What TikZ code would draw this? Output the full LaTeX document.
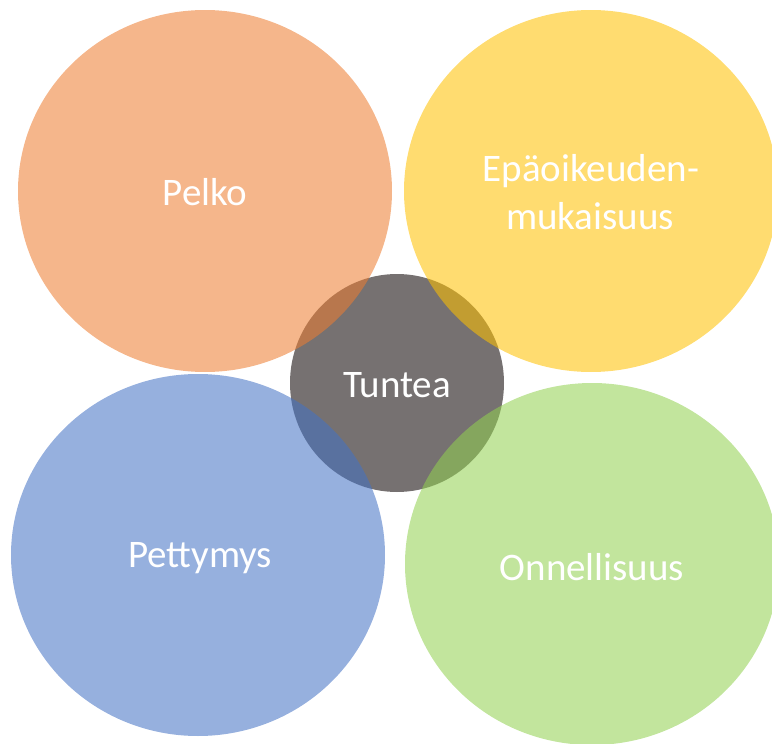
\documentclass[tikz,border=0pt]{standalone}
\usepackage{fontspec}
\setmainfont{Carlito}
\usetikzlibrary{shapes.geometric}
\definecolor{corange}{HTML}{ED7D31}
\definecolor{cyellow}{HTML}{FFC000}
\definecolor{cblue}{HTML}{4472C4}
\definecolor{cgreen}{HTML}{92D050}
\definecolor{cgray}{HTML}{767171}
\begin{document}
\begin{tikzpicture}[x=1pt,y=-1pt,
  blob/.style={ellipse, inner sep=0pt, minimum width=374pt, minimum height=362pt, fill opacity=0.56, draw=none},
  hub/.style={ellipse, inner sep=0pt, minimum width=214pt, minimum height=218pt, fill=cgray, draw=none},
  lbl/.style={text=white, font=\fontsize{39}{47}\selectfont, anchor=base, inner sep=0pt}]
\useasboundingbox (0,0) rectangle (772,744);
\clip (0,0) rectangle (772,744);
\node[hub] (tuntea) at (397,383) {};
\node[blob, fill=corange] (pelko) at (205,191) {};
\node[blob, fill=cyellow] (epa) at (591,191) {};
\node[blob, fill=cblue] (petty) at (198,555) {};
\node[blob, fill=cgreen] (onni) at (592,564) {};
\node[lbl] (ltuntea) at (397,397) {Tuntea};
\node[lbl] (lpelko) at (205,205) {Pelko};
\node[lbl] (lepa1) at (591,181) {Epäoikeuden-};
\node[lbl] (lepa2) at (590,229) {mukaisuus};
\node[lbl] (lpetty) at (200,567) {Pettymys};
\node[lbl] (lonni) at (592,580) {Onnellisuus};
\end{tikzpicture}
\end{document}
